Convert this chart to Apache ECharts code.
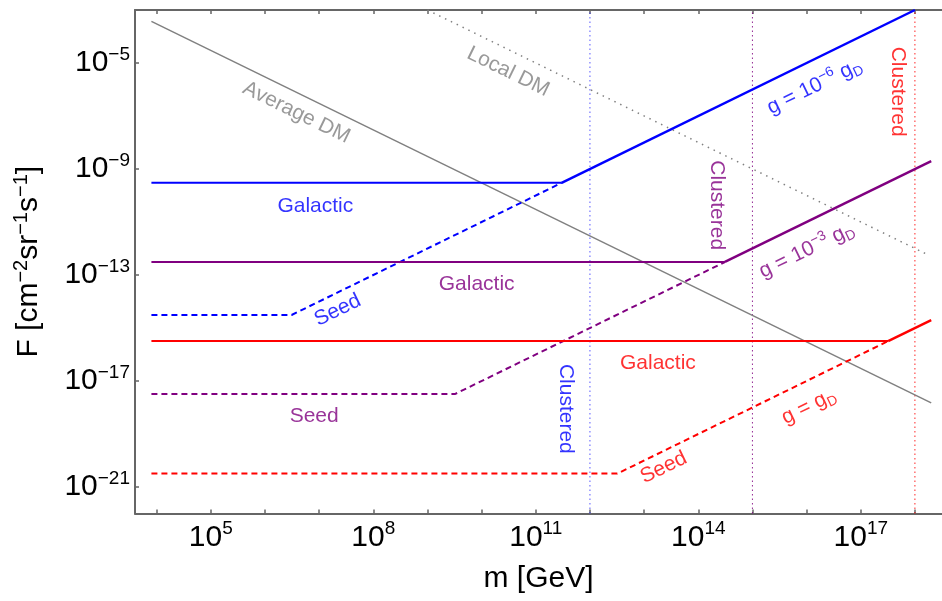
<!DOCTYPE html>
<html>
<head>
<meta charset="utf-8">
<script src="https://cdn.jsdelivr.net/npm/echarts@6/dist/echarts.min.js"></script>
<style>
  html, body { margin: 0; padding: 0; background: #ffffff; }
  #chart { width: 942px; height: 601px; }
</style>
</head>
<body>
<div id="chart"></div>
<script>
// Break points of each curve: [mass m in GeV, flux F in cm^-2 sr^-1 s^-1]
const averageDM = [[8e3, 3.7e-4], [2.0e18, 1.5e-18]];
const localDM = [[1e9, 1e-3], [1.8e18, 5.6e-13]];

// g = 1e-6 gD
const blueGalactic = [[8e3, 3.0e-10], [3.0e11, 3.0e-10]];
const blueClustered = [[3.0e11, 3.0e-10], [1.0e18, 1.0e-3]];
const blueSeed = [[8e3, 3.1e-15], [3.1e6, 3.1e-15], [3.0e11, 3.0e-10]];

// g = 1e-3 gD
const purpleGalactic = [[8e3, 3.1e-13], [3.1e14, 3.1e-13]];
const purpleClustered = [[3.1e14, 3.1e-13], [2.0e18, 2.0e-9]];
const purpleSeed = [[8e3, 3.2e-18], [3.2e9, 3.2e-18], [3.1e14, 3.1e-13]];

// g = gD
const redGalactic = [[8e3, 3.2e-16], [3.2e17, 3.2e-16]];
const redClustered = [[3.2e17, 3.2e-16], [2.0e18, 2.0e-15]];
const redSeed = [[8e3, 3.2e-21], [3.2e12, 3.2e-21], [3.2e17, 3.2e-16]];

// Mass above which clustering sets in, for g = 1e-6, 1e-3, 1 gD
const clusterOnset = [1e12, 1e15, 1e18];

// Axis ticks
const xTickValues = [1e4, 1e5, 1e6, 1e7, 1e8, 1e9, 1e10, 1e11, 1e12, 1e13, 1e14, 1e15, 1e16, 1e17, 1e18];
const xLabelValues = [1e5, 1e8, 1e11, 1e14, 1e17];
const yTickValues = [1e-21, 1e-17, 1e-13, 1e-9, 1e-5];

// Curve annotations: [m, F, rich text]
const notesGray = [
  [3.8e6, 1.35e-7, '{t|Average DM}'],
  [3.1e10, 4.7e-6, '{t|Local DM}']
];
const notesBlue = [
  [8.5e6, 3.9e-11, '{t|Galactic}'],
  [2.2e7, 4.7e-15, '{t|Seed}'],
  [3.6e11, 8.9e-19, '{t|Clustered}'],
  [1.4e16, 1.3e-6, '{t|g = 10}{sup|−6}{t| g}{sub|D}']
];
const notesPurple = [
  [8.1e9, 4.5e-14, '{t|Galactic}'],
  [8.1e6, 4.8e-19, '{t|Seed}'],
  [2.2e14, 4.3e-11, '{t|Clustered}'],
  [1.0e16, 8.5e-13, '{t|g = 10}{sup|−3}{t| g}{sub|D}']
];
const notesRed = [
  [1.8e13, 4.8e-17, '{t|Galactic}'],
  [2.3e13, 5.4e-21, '{t|Seed}'],
  [4.8e17, 8.3e-7, '{t|Clustered}'],
  [1.1e16, 1.1e-18, '{t|g = g}{sub|D}']
];

const FONT = '"Liberation Sans", Arial, sans-serif';
const FRAME = '#666666';
const BLUE = '#0000ff', PURPLE = '#800080', RED = '#ff0000', GRAY = '#808080';
const SLOPE_ANGLE = 26;

function exponentLabel(v) {
  const e = Math.round(Math.log10(v));
  return '{b|10}{s|' + String(e).replace('-', '−') + '}';
}

function lineSeries(data, color, width, type) {
  return {
    type: 'line', data: data, symbol: 'none', silent: true,
    lineStyle: { color: color, width: width, type: type || 'solid', cap: 'butt' },
    z: 3
  };
}

// Text along a sloped curve follows it; "Clustered" runs downwards, "Galactic" stays flat
function rotationFor(text, flatSeed) {
  if (text.indexOf('Clustered') >= 0) return -90;
  if (text.indexOf('Galactic') >= 0) return 0;
  if (text.indexOf('DM') >= 0) return -SLOPE_ANGLE;
  if (text.indexOf('Seed') >= 0 && flatSeed) return 0;
  return SLOPE_ANGLE;
}

function noteSeries(notes, color, flatSeed) {
  return {
    type: 'scatter', silent: true, symbolSize: 1,
    itemStyle: { color: 'rgba(0,0,0,0)' },
    z: 5,
    data: notes.map(function (n) {
      return {
        value: [n[0], n[1]],
        label: {
          show: true, position: 'inside', rotate: rotationFor(n[2], flatSeed),
          formatter: n[2],
          align: 'center', verticalAlign: 'middle',
          rich: {
            t: { fontFamily: FONT, fontSize: 21, color: color, lineHeight: 26 },
            sup: { fontFamily: FONT, fontSize: 14, color: color, verticalAlign: 'top' },
            sub: { fontFamily: FONT, fontSize: 14, color: color, verticalAlign: 'bottom' }
          }
        }
      };
    })
  };
}

function clusterLine(m, color) {
  return lineSeries([[m, 1e-22], [m, 1e-3]], color, 1, [1.5, 3]);
}

const tickRich = {
  b: { fontFamily: FONT, fontSize: 30, color: '#000', lineHeight: 36 },
  s: { fontFamily: FONT, fontSize: 19, color: '#000', verticalAlign: 'top' }
};

const chart = echarts.init(document.getElementById('chart'), null, { renderer: 'canvas' });

chart.setOption({
  animation: false,
  backgroundColor: '#ffffff',
  grid: { left: 135, top: 10, width: 810.6, height: 503.5, containLabel: false },
  xAxis: [
    {
      type: 'log', logBase: 10, min: Math.pow(10, 3.6), max: Math.pow(10, 18.5),
      position: 'bottom',
      name: 'm [GeV]', nameLocation: 'middle', nameGap: 50,
      nameTextStyle: { fontFamily: FONT, fontSize: 30, color: '#000' },
      axisLine: { show: true, lineStyle: { color: FRAME, width: 2 } },
      axisTick: { show: true, inside: true, length: 4, customValues: xTickValues, lineStyle: { color: FRAME, width: 1.5 } },
      axisLabel: { show: true, margin: 6, customValues: xLabelValues, formatter: exponentLabel, rich: tickRich },
      splitLine: { show: false }, minorTick: { show: false }
    },
    {
      type: 'log', logBase: 10, min: Math.pow(10, 3.6), max: Math.pow(10, 18.5),
      position: 'top',
      axisLine: { show: true, lineStyle: { color: FRAME, width: 2 } },
      axisTick: { show: true, inside: true, length: 4, customValues: xTickValues, lineStyle: { color: FRAME, width: 1.5 } },
      axisLabel: { show: false },
      splitLine: { show: false }
    }
  ],
  yAxis: [
    {
      type: 'log', logBase: 10, min: 1e-22, max: 1e-3,
      position: 'left',
      name: '{b|F [cm}{s|−2}{b|sr}{s|−1}{b|s}{s|−1}{b|]}',
      nameLocation: 'middle', nameGap: 88,
      nameTextStyle: {
        rich: {
          b: { fontFamily: FONT, fontSize: 30, color: '#000', lineHeight: 36 },
          s: { fontFamily: FONT, fontSize: 20, color: '#000', verticalAlign: 'top' }
        }
      },
      axisLine: { show: true, lineStyle: { color: FRAME, width: 2 } },
      axisTick: { show: true, inside: true, length: 4, customValues: yTickValues, lineStyle: { color: FRAME, width: 1.5 } },
      axisLabel: { show: true, margin: 5, customValues: yTickValues, formatter: exponentLabel, rich: tickRich },
      splitLine: { show: false }, minorTick: { show: false }
    }
  ],
  series: [
    clusterLine(clusterOnset[0], 'rgba(60,60,255,0.85)'),
    clusterLine(clusterOnset[1], 'rgba(128,0,128,0.85)'),
    clusterLine(clusterOnset[2], 'rgba(255,0,0,0.85)'),
    lineSeries(localDM, GRAY, 1.5, [1.5, 5]),
    lineSeries(averageDM, GRAY, 1.5),
    lineSeries(blueSeed, BLUE, 2, [6, 4]),
    lineSeries(purpleSeed, PURPLE, 2, [6, 4]),
    lineSeries(redSeed, RED, 2, [6, 4]),
    lineSeries(blueGalactic, BLUE, 2),
    lineSeries(blueClustered, BLUE, 2.5),
    lineSeries(purpleGalactic, PURPLE, 2),
    lineSeries(purpleClustered, PURPLE, 2.5),
    lineSeries(redGalactic, RED, 2),
    lineSeries(redClustered, RED, 2.5),
    noteSeries(notesGray, GRAY, false),
    noteSeries(notesBlue, BLUE, false),
    noteSeries(notesPurple, PURPLE, true),
    noteSeries(notesRed, RED, false)
  ]
});
</script>
</body>
</html>
